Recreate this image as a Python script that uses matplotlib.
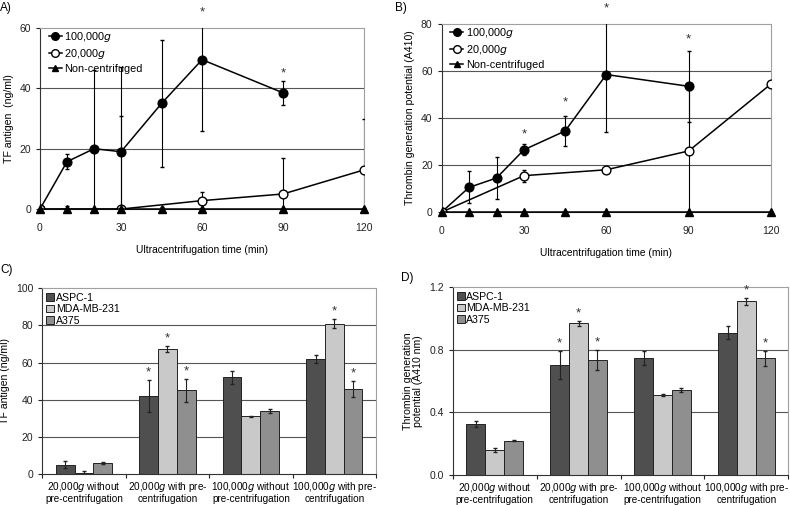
import numpy as np
import matplotlib
matplotlib.use('Agg')
import matplotlib.pyplot as plt
from matplotlib.lines import Line2D

plt.rcParams['font.family'] = ['Liberation Sans', 'DejaVu Sans']
plt.rcParams['font.size'] = 7.5

# ---- data: panel A (TF antigen vs time)
a_t100 = [0, 10, 20, 30, 45, 60, 90]
a_y100 = [0, 15.7, 20, 19, 35, 49.5, 38.5]
a_e100 = [0, 2.5, 26, 28, 21, 23.5, 4]
a_t20 = [0, 30, 60, 90, 120]
a_y20 = [0, 0, 2.8, 5, 13]
a_e20 = [0, 31, 2.8, 12, 17]
a_tnc = [0, 10, 20, 30, 45, 60, 90, 120]
a_ync = [0, 0, 0, 0, 0, 0, 0, 0]
a_enc = [0, 1, 0.5, 0.5, 0.8, 0.5, 0.5, 0.5]
a_star_x = [60, 90]
a_star_y = [65, 45]

# ---- data: panel B (thrombin generation vs time)
b_t100 = [0, 10, 20, 30, 45, 60, 90]
b_y100 = [0, 10.5, 14.5, 26.5, 34.5, 58.5, 53.5]
b_e100 = [0, 6.8, 9, 2.3, 6.3, 24.5, 15]
b_t20 = [0, 30, 60, 90, 120]
b_y20 = [0, 15.5, 18, 26, 54.5]
b_e20 = [0, 2.5, 0.5, 26, 0]
b_tnc = [0, 10, 20, 30, 45, 60, 90, 120]
b_ync = [0, 0, 0, 0, 0, 0, 0, 0]
b_star_x = [30, 45, 60, 90]
b_star_y = [33, 46.5, 86.5, 73.5]

# ---- data: panels C and D (bars)
groups = ['20,000$\\it{g}$ without\npre-centrifugation',
          '20,000$\\it{g}$ with pre-\ncentrifugation',
          '100,000$\\it{g}$ without\npre-centrifugation',
          '100,000$\\it{g}$ with pre-\ncentrifugation']
lines = ['ASPC-1', 'MDA-MB-231', 'A375']
c_vals = [[5, 42, 52, 62], [0.8, 67.5, 31, 81], [6, 45, 34, 46]]
c_errs = [[2, 8.5, 3.5, 2], [0.8, 1.7, 0.4, 2.5], [0.4, 6, 1.2, 4.3]]
d_vals = [[0.325, 0.705, 0.75, 0.91], [0.16, 0.97, 0.51, 1.11], [0.22, 0.735, 0.545, 0.745]]
d_errs = [[0.02, 0.09, 0.045, 0.04], [0.01, 0.015, 0.005, 0.02], [0.005, 0.065, 0.012, 0.05]]
# (series index, group index) with asterisk
stars = [(0, 1), (1, 1), (2, 1), (1, 3), (2, 3)]

bar_cols = ['#4f4f4f', '#c9c9c9', '#8f8f8f']
grid_col = '#555555'
frame_col = '#a0a0a0'

fig = plt.figure(figsize=(7.9, 5.05), dpi=100)


def style_axes(ax):
    for s in ['top', 'right']:
        ax.spines[s].set_color(frame_col)
    for s in ['left', 'bottom']:
        ax.spines[s].set_color('#333333')
        ax.spines[s].set_linewidth(0.8)
    ax.tick_params(length=3, width=0.8, colors='#222222', labelsize=7.5)


def line_panel(ax, t100, y100, e100, t20, y20, e20, tnc, ync, enc, ymax, ystep):
    ax.set_xlim(0, 120)
    ax.set_ylim(0, ymax)
    for g in np.arange(ystep, ymax, ystep):
        ax.axhline(g, color=grid_col, lw=0.8, zorder=0)
    ax.errorbar(t100, y100, yerr=e100, color='black', marker='o', ms=6.3,
                lw=1.1, elinewidth=0.8, capsize=1.2, zorder=3)
    ax.errorbar(t20, y20, yerr=e20, color='black', marker='o', ms=6.3, mfc='white',
                lw=1.1, elinewidth=0.8, capsize=1.2, zorder=3)
    ax.errorbar(tnc, ync, yerr=enc, color='black', marker='^', ms=5.5,
                lw=1.1, elinewidth=0.8, capsize=1.2, clip_on=False, zorder=4)
    ax.set_xticks([0, 30, 60, 90, 120])
    ax.set_yticks(np.arange(0, ymax + 1, ystep))
    ax.tick_params(axis='x', pad=7)
    ax.set_xlabel('Ultracentrifugation time (min)', fontsize=7.4, labelpad=9)
    style_axes(ax)
    handles = [Line2D([], [], color='black', marker='o', ms=5.5, lw=1.1),
               Line2D([], [], color='black', marker='o', ms=5.5, mfc='white', lw=1.1),
               Line2D([], [], color='black', marker='^', ms=5, lw=1.1)]
    ax.legend(handles, ['100,000$\\it{g}$', '20,000$\\it{g}$', 'Non-centrifuged'],
              loc='upper left', bbox_to_anchor=(0.02, 1.0), frameon=False,
              fontsize=7.8, handlelength=1.2, handletextpad=0.25,
              labelspacing=0.25, borderaxespad=0.0, borderpad=0.2)


# panel A
axA = fig.add_axes([0.0506, 0.586, 0.4104, 0.3586])
line_panel(axA, a_t100, a_y100, a_e100, a_t20, a_y20, a_e20,
           a_tnc, a_ync, a_enc, 60, 20)
axA.set_ylabel('TF antigen  (ng/ml)', fontsize=7.6)
for x, y in zip(a_star_x, a_star_y):
    axA.text(x, y, '*', ha='center', va='center', fontsize=9.5, color='#333333',
             clip_on=False)

# panel B
axB = fig.add_axes([0.559, 0.580, 0.417, 0.3725])
line_panel(axB, b_t100, b_y100, b_e100, b_t20, b_y20, b_e20,
           b_tnc, b_ync, [0] * len(b_tnc), 80, 20)
axB.set_ylabel('Thrombin generation potential (A410)', fontsize=7.6)
for x, y in zip(b_star_x, b_star_y):
    axB.text(x, y, '*', ha='center', va='center', fontsize=9.5, color='#333333',
             clip_on=False)


def bar_panel(ax, vals, errs, ymax, ystep, fmt):
    x = np.arange(len(groups))
    w = 0.225
    ax.set_xlim(-0.5, len(groups) - 0.5)
    ax.set_ylim(0, ymax)
    for g in np.arange(ystep, ymax - ystep / 2, ystep):
        ax.axhline(g, color=grid_col, lw=0.8, zorder=0)
    for i in range(3):
        ax.bar(x + (i - 1) * w, vals[i], w, yerr=errs[i], color=bar_cols[i],
               edgecolor='#222222', linewidth=0.7, label=lines[i], zorder=2,
               error_kw=dict(elinewidth=0.8, capsize=1.5, ecolor='#222222'))
    for i, j in stars:
        top = vals[i][j] + errs[i][j]
        ax.text(j + (i - 1) * w, top + ymax * 0.04, '*', ha='center', va='center',
                fontsize=9.5, color='#333333')
    ax.set_xticks(np.arange(-0.5, len(groups) + 0.5, 1))
    ax.set_xticklabels([])
    ax.set_xticks(x, minor=True)
    ax.set_xticklabels(groups, minor=True, fontsize=7.2, linespacing=1.05)
    ax.tick_params(axis='x', which='minor', length=0, pad=4)
    ax.set_yticks(np.arange(0, ymax + ystep / 2, ystep))
    ax.set_yticklabels([fmt % v for v in np.arange(0, ymax + ystep / 2, ystep)])
    style_axes(ax)
    ax.legend(loc='upper left', frameon=False, fontsize=7.6, handlelength=0.75,
              handleheight=0.75, handletextpad=0.15, labelspacing=0.15,
              borderaxespad=0.1, borderpad=0.3)


# panel C
axC = fig.add_axes([0.0535, 0.0614, 0.4225, 0.3676])
bar_panel(axC, c_vals, c_errs, 100, 20, '%d')
axC.set_ylabel('TF antigen (ng/ml)', fontsize=7.6)

# panel D
axD = fig.add_axes([0.573, 0.0594, 0.425, 0.3717])
bar_panel(axD, d_vals, d_errs, 1.2, 0.4, '%.1f')
axD.set_ylabel('Thrombin generation\npotential (A410 nm)', fontsize=7.6,
               linespacing=1.0)

fig.text(0.0, 0.984, 'A)', fontsize=8.5, va='center')
fig.text(0.5, 0.984, 'B)', fontsize=8.5, va='center')
fig.text(0.0, 0.465, 'C)', fontsize=8.5, va='center')
fig.text(0.507, 0.45, 'D)', fontsize=8.5, va='center')

fig.savefig('out.png', dpi=100)
